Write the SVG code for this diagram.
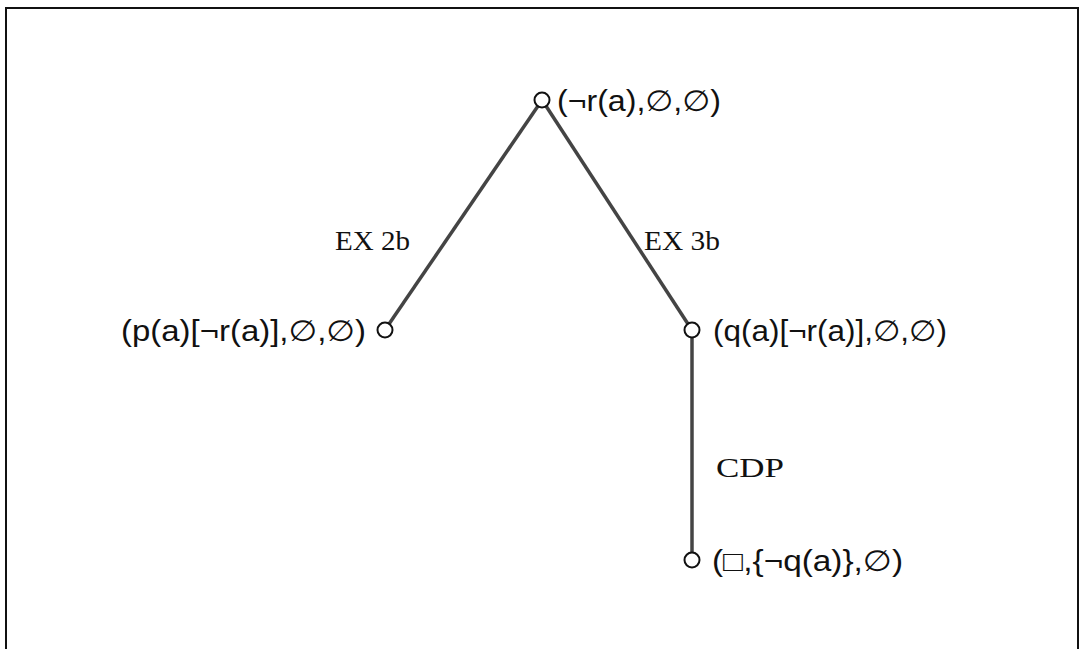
<svg xmlns="http://www.w3.org/2000/svg" width="1082" height="649" viewBox="0 0 1082 649">
<style>
.frame{fill:none;stroke:#111;stroke-width:2}
.edge{stroke:#444;stroke-width:3.5;fill:none}
.node circle{fill:#fff;stroke:#111;stroke-width:2}
.t{font-family:"Liberation Sans","DejaVu Sans",sans-serif;font-size:29px;fill:#111}
.lbl{font-family:"Liberation Serif","DejaVu Serif",serif;font-size:28px;fill:#111}
</style>
<rect width="1082" height="649" fill="#fff"/>
<path class="frame" d="M6,652 V8 H1078 V652"/>
<g id="connectors">
<line class="edge" x1="538" y1="106" x2="389" y2="324"/>
<line class="edge" x1="546" y1="106" x2="688" y2="324"/>
<line class="edge" x1="692" y1="337" x2="692" y2="553"/>
<text class="lbl" x="335" y="250" textLength="75" lengthAdjust="spacingAndGlyphs">EX 2b</text>
<text class="lbl" x="644" y="250" textLength="76" lengthAdjust="spacingAndGlyphs">EX 3b</text>
<text class="lbl" x="716" y="477" textLength="68" lengthAdjust="spacingAndGlyphs">CDP</text>
</g>
<g id="n1" class="node"><circle cx="542" cy="100" r="7.5"/><text class="t" x="557" y="111" textLength="164" lengthAdjust="spacingAndGlyphs">(¬r(a),∅,∅)</text></g>
<g id="n2" class="node"><circle cx="385" cy="330" r="7.5"/><text class="t" x="121" y="341" textLength="245" lengthAdjust="spacingAndGlyphs">(p(a)[¬r(a)],∅,∅)</text></g>
<g id="n3" class="node"><circle cx="692" cy="330" r="7.5"/><text class="t" x="713" y="341" textLength="234" lengthAdjust="spacingAndGlyphs">(q(a)[¬r(a)],∅,∅)</text></g>
<g id="n4" class="node"><circle cx="692" cy="560" r="7.5"/><text class="t" x="712" y="571" textLength="191" lengthAdjust="spacingAndGlyphs">(□,{¬q(a)},∅)</text></g>
</svg>
